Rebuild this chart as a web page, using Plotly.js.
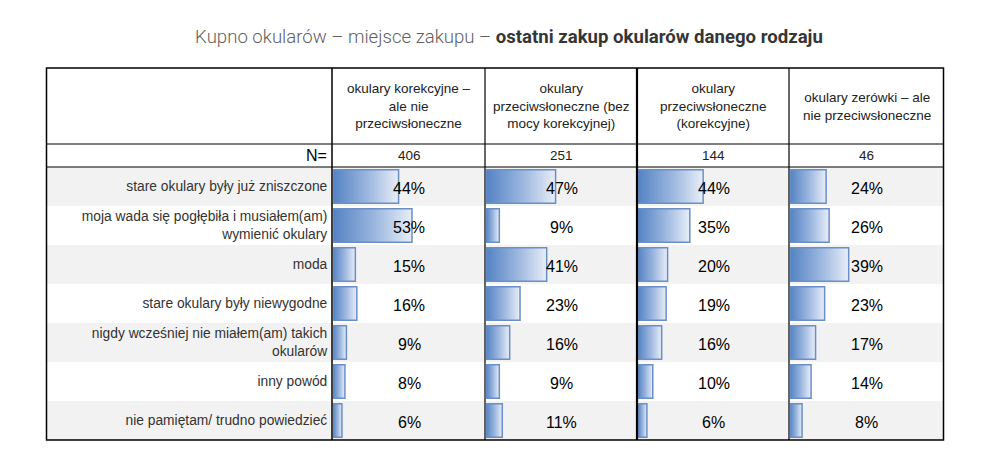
<!DOCTYPE html>
<html>
<head>
<meta charset="utf-8">
<script src="https://cdn.plot.ly/plotly-3.0.1.min.js"></script>
<style>
  html, body { margin: 0; padding: 0; background: #ffffff; }
  #chart { width: 995px; height: 462px; }
</style>
</head>
<body>
<div id="chart"></div>
<script>
// ---------- DATA ----------
const categories = [
  "stare okulary były już zniszczone",
  "moja wada się pogłębiła i musiałem(am)<br>wymienić okulary",
  "moda",
  "stare okulary były niewygodne",
  "nigdy wcześniej nie miałem(am) takich<br>okularów",
  "inny powód",
  "nie pamiętam/ trudno powiedzieć"
];
const columnHeaders = [
  "okulary korekcyjne –<br>ale nie<br>przeciwsłoneczne",
  "okulary<br>przeciwsłoneczne (bez<br>mocy korekcyjnej)",
  "okulary<br>przeciwsłoneczne<br>(korekcyjne)",
  "okulary zerówki – ale<br>nie przeciwsłoneczne"
];
const nLabel = "N=";
const nValues = [406, 251, 144, 46];
const korekcyjne = [44, 53, 15, 16, 9, 8, 6];
const przeciwsloneczneBez = [47, 9, 41, 23, 16, 9, 11];
const przeciwsloneczneKor = [44, 35, 20, 19, 16, 10, 6];
const zerowki = [24, 26, 39, 23, 17, 14, 8];
const seriesValues = [korekcyjne, przeciwsloneczneBez, przeciwsloneczneKor, zerowki];
const titleMain = "Kupno okularów – miejsce zakupu – ";
const titleBold = "ostatni zakup okularów danego rodzaju";

// ---------- LAYOUT HELPERS (pixels -> paper) ----------
const W = 995, H = 462;
const px = x => x / W;
const py = y => 1 - y / H;
const tableLeft = 46.5, tableRight = 943.5, tableTop = 68, tableBottom = 440;
const headerBottom = 144, nBottom = 167;
const colEdges = [332, 485, 637, 789, 943.5];
const FONT = 'Liberation Sans, Arial, sans-serif';

const xDomains = [];
for (let j = 0; j < 4; j++) {
  xDomains.push([px(colEdges[j] + 1), px(colEdges[j + 1])]);
}

const data = seriesValues.map((vals, j) => ({
  type: 'bar',
  orientation: 'h',
  x: vals,
  y: categories,
  xaxis: j === 0 ? 'x' : 'x' + (j + 1),
  yaxis: 'y',
  width: 0.86,
  marker: { color: '#9db6dd', line: { color: '#6a8fc6', width: 1.5 } },
  hoverinfo: 'none',
  showlegend: false
}));

const layout = {
  width: W, height: H,
  margin: { l: 0, r: 0, t: 0, b: 0 },
  paper_bgcolor: '#ffffff',
  plot_bgcolor: 'rgba(0,0,0,0)',
  font: { family: FONT, color: '#000' },
  title: {
    text: '<span style="color:#5f5f5f">' + titleMain + '</span><span style="color:#363636"><b>' + titleBold + '</b></span>',
    font: { family: 'Roboto, sans-serif', size: 18.6, weight: 300, color: '#5f5f5f' },
    x: px(509), xanchor: 'center', xref: 'paper',
    y: py(36), yanchor: 'middle', yref: 'container'
  },
  yaxis: {
    domain: [py(tableBottom), py(nBottom)],
    type: 'category',
    categoryorder: 'array',
    categoryarray: categories,
    autorange: false,
    range: [6.5, -0.5],
    anchor: 'x',
    showgrid: false, zeroline: false, showline: false,
    ticks: 'outside', ticklen: 2, tickcolor: 'rgba(0,0,0,0)',
    tickfont: { family: FONT, size: 13.8, color: '#333' },
    automargin: false,
    fixedrange: true
  },
  shapes: [],
  annotations: []
};

for (let j = 0; j < 4; j++) {
  const key = j === 0 ? 'xaxis' : 'xaxis' + (j + 1);
  layout[key] = {
    domain: xDomains[j],
    range: [0, 102],
    anchor: 'y',
    showgrid: false, zeroline: false, showline: false,
    showticklabels: false, ticks: '',
    fixedrange: true
  };
}

// alternating row backgrounds
for (let i = 0; i < categories.length; i += 2) {
  layout.shapes.push({
    type: 'rect', layer: 'below',
    xref: 'paper', yref: 'y',
    x0: px(tableLeft), x1: px(tableRight),
    y0: i - 0.5, y1: i + 0.5,
    fillcolor: '#f2f2f2', line: { width: 0 }
  });
}

// grid lines
function line(x0, y0, x1, y1, w) {
  layout.shapes.push({
    type: 'line', xref: 'paper', yref: 'paper', layer: 'above',
    x0: px(x0), y0: py(y0), x1: px(x1), y1: py(y1),
    line: { color: '#000', width: w }
  });
}
line(tableLeft, headerBottom, tableRight, headerBottom, 1.2);
line(tableLeft, nBottom, tableRight, nBottom, 1.2);
line(colEdges[0], tableTop, colEdges[0], tableBottom, 1.5);
line(colEdges[1], tableTop, colEdges[1], tableBottom, 1.2);
line(colEdges[2], tableTop, colEdges[2], tableBottom, 2.2);
line(colEdges[3], tableTop, colEdges[3], tableBottom, 1.2);
layout.shapes.push({
  type: 'rect', xref: 'paper', yref: 'paper', layer: 'above',
  x0: px(tableLeft), x1: px(tableRight), y0: py(tableBottom), y1: py(tableTop),
  line: { color: '#000', width: 1.5 }, fillcolor: 'rgba(0,0,0,0)'
});

// header texts, N row and value labels
for (let j = 0; j < 4; j++) {
  const dom = j === 0 ? 'x domain' : 'x' + (j + 1) + ' domain';
  layout.annotations.push({
    xref: dom, yref: 'paper', x: 0.5, y: py((tableTop + headerBottom) / 2),
    xanchor: 'center', yanchor: 'middle', showarrow: false,
    text: columnHeaders[j], align: 'center',
    font: { size: 13.5, color: '#222', family: FONT }
  });
  layout.annotations.push({
    xref: dom, yref: 'paper', x: 0.5, y: py((headerBottom + nBottom) / 2),
    xanchor: 'center', yanchor: 'middle', showarrow: false,
    text: String(nValues[j]),
    font: { size: 13.5, color: '#222', family: FONT }
  });
  seriesValues[j].forEach((v, i) => {
    layout.annotations.push({
      xref: dom, yref: 'y', x: 0.5, y: categories[i],
      xanchor: 'center', yanchor: 'middle', yshift: -2, showarrow: false,
      text: v + '%',
      font: { size: 16, color: '#000', family: FONT }
    });
  });
}
layout.annotations.push({
  xref: 'paper', yref: 'paper', x: px(colEdges[0] - 3), y: py((headerBottom + nBottom) / 2),
  xanchor: 'right', yanchor: 'middle', showarrow: false,
  text: nLabel,
  font: { size: 16, color: '#000', family: FONT }
});

Plotly.newPlot('chart', data, layout, { staticPlot: true, displayModeBar: false }).then(gd => {
  const ns = 'http://www.w3.org/2000/svg';
  const svg = gd.querySelector('.main-svg');
  let defs = svg.querySelector('defs');
  if (!defs) { defs = document.createElementNS(ns, 'defs'); svg.insertBefore(defs, svg.firstChild); }
  const lg = document.createElementNS(ns, 'linearGradient');
  lg.setAttribute('id', 'barGrad');
  lg.setAttribute('x1', '0'); lg.setAttribute('y1', '0');
  lg.setAttribute('x2', '1'); lg.setAttribute('y2', '0');
  [['0', '#5382c3'], ['0.55', '#9fb9e0'], ['1', '#e8eef8']].forEach(([o, c]) => {
    const s = document.createElementNS(ns, 'stop');
    s.setAttribute('offset', o); s.setAttribute('stop-color', c);
    lg.appendChild(s);
  });
  defs.appendChild(lg);
  gd.querySelectorAll('.barlayer .point path').forEach(p => { p.style.fill = 'url(#barGrad)'; });
});
</script>
</body>
</html>
